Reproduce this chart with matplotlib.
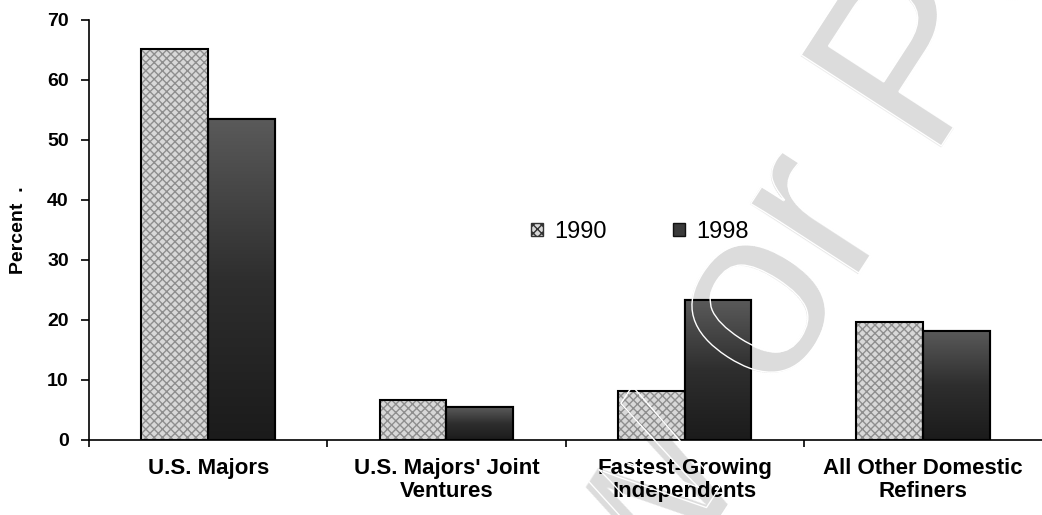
import numpy as np
import matplotlib
matplotlib.use("Agg")
import matplotlib.pyplot as plt
import matplotlib.patches as mpatches
import matplotlib.patheffects as pe
from matplotlib.colors import LinearSegmentedColormap

# Share of domestic refining capacity by refiner group
categories = ["U.S. Majors", "U.S. Majors' Joint\nVentures",
              "Fastest-Growing\nIndependents", "All Other Domestic\nRefiners"]
share_1990 = [65.2, 6.7, 8.2, 19.7]
share_1998 = [53.5, 5.5, 23.3, 18.2]
series_labels = ["1990", "1998"]
y_ticks = [0, 10, 20, 30, 40, 50, 60, 70]

plt.rcParams["font.family"] = ["Liberation Sans", "DejaVu Sans"]

fig = plt.figure(figsize=(10.42, 5.15), dpi=100, facecolor="white")
ax = fig.add_axes([89 / 1042, 1 - 440 / 515, 1 - 89 / 1042, 420 / 515])
ax.patch.set_visible(False)

x = np.arange(len(categories))
w = 0.28

# 1990: light stippled cross-hatch
ax.bar(x - w / 2, share_1990, w, color="#d8d8d8", edgecolor="#8e8e8e",
       hatch="xxxx", linewidth=0, zorder=2)
ax.bar(x - w / 2, share_1990, w, fill=False, edgecolor="black",
       linewidth=1.5, zorder=3)

# 1998: dark vertical gradient
cmap = LinearSegmentedColormap.from_list("dark", ["#1b1b1b", "#2e2e2e", "#5a5a5a"])
grad = np.linspace(0, 1, 256).reshape(-1, 1)
bars98 = ax.bar(x + w / 2, share_1998, w, color="#333333", edgecolor="black",
                linewidth=1.5, zorder=2)
for b in bars98:
    x0, h = b.get_x(), b.get_height()
    im = ax.imshow(grad, extent=[x0, x0 + b.get_width(), 0, h], origin="lower",
                   cmap=cmap, aspect="auto", zorder=2.5, interpolation="bilinear")
    im.set_clip_path(b)
ax.bar(x + w / 2, share_1998, w, fill=False, edgecolor="black",
       linewidth=1.5, zorder=3)

ax.set_xlim(-0.5, len(categories) - 0.5)
ax.set_ylim(0, 70)
ax.set_aspect("auto")

for s in ["top", "right"]:
    ax.spines[s].set_visible(False)
for s in ["left", "bottom"]:
    ax.spines[s].set_linewidth(1.2)
    ax.spines[s].set_zorder(4)

ax.set_yticks(y_ticks)
ax.set_yticklabels([str(t) for t in y_ticks], fontsize=14, fontweight="bold")
ax.tick_params(axis="y", direction="out", length=5.5, width=1.2, pad=9)

ax.set_xticks(x)
ax.set_xticklabels(categories, fontsize=16, fontweight="bold", linespacing=1.1)
ax.tick_params(axis="x", which="major", length=0, pad=13)
ax.set_xticks(np.arange(-0.5, len(categories) - 0.5, 1.0), minor=True)
ax.tick_params(axis="x", which="minor", direction="out", length=5, width=1.2)

ax.set_ylabel("Percent  .", fontsize=14, fontweight="bold")
ax.yaxis.set_label_coords(-62 / 953, 0.5)

handles = [
    mpatches.Patch(facecolor="#d8d8d8", edgecolor="#333333", hatch="xxxx", linewidth=1),
    mpatches.Patch(facecolor="#3a3a3a", edgecolor="#111111", linewidth=1),
]
leg = ax.legend(handles, series_labels, ncol=2, frameon=False, fontsize=17,
                handlelength=0.5, handleheight=0.5, handletextpad=0.5,
                columnspacing=2.8, loc="center", bbox_to_anchor=(640 / 1042, 1 - 232 / 515),
                bbox_transform=fig.transFigure)
leg.set_zorder(6)

# Diagonal watermark: light fill behind the bars, thin white outline above them
rot = 57
anchor_a = (776 / 1042, 114.5 / 515)
anchor_b = (739.5 / 1042, 58.3 / 515)
wm_kw = dict(fontsize=175, rotation=rot, rotation_mode="anchor",
             transform=fig.transFigure, clip_on=False, va="baseline")
for txt, anc, ha in [("or Personal Use", anchor_a, "left"), ("Review", anchor_b, "right")]:
    ax.text(anc[0], anc[1], txt, color="#dcdcdc", ha=ha, zorder=0.5, **wm_kw)
    t = ax.text(anc[0], anc[1], txt, color="none", ha=ha, zorder=7, **wm_kw)
    t.set_path_effects([pe.Stroke(linewidth=1.0, foreground="white")])

fig.savefig("out.png", dpi=100, facecolor="white")
